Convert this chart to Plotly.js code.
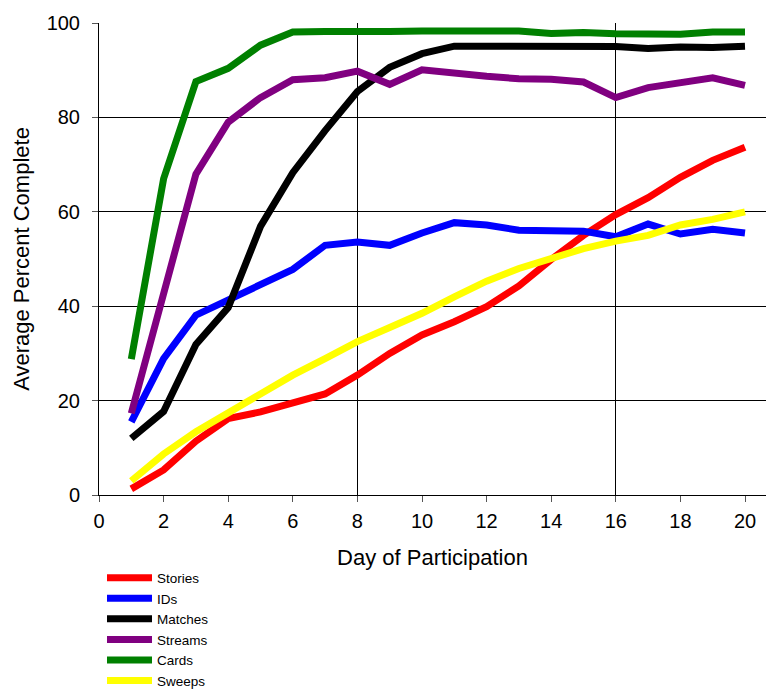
<!DOCTYPE html>
<html>
<head>
<meta charset="utf-8">
<script src="https://cdn.plot.ly/plotly-3.0.1.min.js"></script>
<style>html,body{margin:0;padding:0;background:#fff;}#chart{width:766px;height:690px;}</style>
</head>
<body>
<div id="chart"></div>
<script>
const days = [1,2,3,4,5,6,7,8,9,10,11,12,13,14,15,16,17,18,19,20];
const stories = [1.3,5.3,11.4,16.2,17.6,19.4,21.4,25.4,30.0,33.9,36.7,39.9,44.3,49.9,55.0,59.4,63.0,67.3,70.9,73.7];
const ids = [15.5,28.9,38.1,41.4,44.5,47.8,52.9,53.6,52.9,55.5,57.7,57.2,56.1,56.0,55.9,54.7,57.4,55.3,56.3,55.5];
const matches = [12.0,17.7,31.9,39.7,56.9,68.3,77.2,85.5,90.6,93.5,95.1,95.1,95.3,95.1,95.3,95.0,94.6,94.9,94.8,95.1];
const streams = [17.3,42.5,68.0,79.0,84.2,88.0,88.4,89.8,87.0,90.1,89.3,88.7,88.2,88.1,87.5,84.2,86.3,87.2,88.4,86.8];
const cards = [28.8,67.0,87.6,90.4,95.3,98.1,98.2,98.1,98.2,98.3,98.2,98.2,98.3,97.8,98.0,97.7,97.6,97.6,98.1,98.1];
const sweeps = [3.0,8.7,13.4,17.4,21.5,25.4,28.9,32.5,35.5,38.5,42.0,45.3,48.0,50.1,52.2,53.8,55.0,57.2,58.4,60.0];

const seriesNames = ["Stories","IDs","Matches","Streams","Cards","Sweeps"];
const seriesValues = [stories, ids, matches, streams, cards, sweeps];
const seriesColors = ["#ff0000","#0000ff","#000000","#800080","#008000","#ffff00"];

const traces = seriesNames.map((n,i)=>({
  x: days, y: seriesValues[i], name: n, type: 'scatter', mode: 'lines',
  line: {color: seriesColors[i], width: 7}
}));
// invisible trace to drive the secondary grid axis
traces.push({x: days, y: stories, xaxis: 'x2', mode: 'lines', line:{width:0}, showlegend:false, hoverinfo:'skip', opacity:0});

const font = {family: '"Liberation Sans", Arial, sans-serif', color: '#000'};
const layout = {
  width: 766, height: 690,
  margin: {l: 99, r: 0, t: 23, b: 195, autoexpand: false},
  paper_bgcolor: '#fff', plot_bgcolor: '#fff',
  font: Object.assign({size: 16}, font),
  showlegend: true,
  legend: {x: 0.0045, y: -0.143, xanchor: 'left', yanchor: 'top', orientation: 'v',
    font: Object.assign({size: 13.5}, font), itemwidth: 45, tracegroupgap: 0, bgcolor: 'rgba(0,0,0,0)'},
  xaxis: {range: [0, 20.65], dtick: 2, tick0: 0, showgrid: false, zeroline: false,
    showline: true, linecolor: '#000', linewidth: 1, ticks: 'outside', ticklen: 6, tickcolor: '#555',
    ticklabelstandoff: 2,
    tickfont: Object.assign({size: 20}, font),
    title: {text: 'Day of Participation', font: Object.assign({size: 22}, font), standoff: 18}},
  xaxis2: {overlaying: 'x', matches: 'x', range: [0, 20.65], dtick: 8, tick0: 0, showgrid: true,
    gridcolor: '#000', gridwidth: 1, showticklabels: false, ticks: '', zeroline: false, showline: false},
  yaxis: {range: [0, 100], dtick: 20, showgrid: true, gridcolor: '#000', gridwidth: 1, zeroline: false,
    showline: true, linecolor: '#000', linewidth: 1, ticks: 'outside', ticklen: 6, tickcolor: '#555',
    ticklabelstandoff: 8,
    tickfont: Object.assign({size: 20}, font),
    title: {text: 'Average Percent Complete', font: Object.assign({size: 22}, font), standoff: 10}}
};
Plotly.newPlot('chart', traces, layout, {displayModeBar: false, staticPlot: true});
</script>
</body>
</html>
